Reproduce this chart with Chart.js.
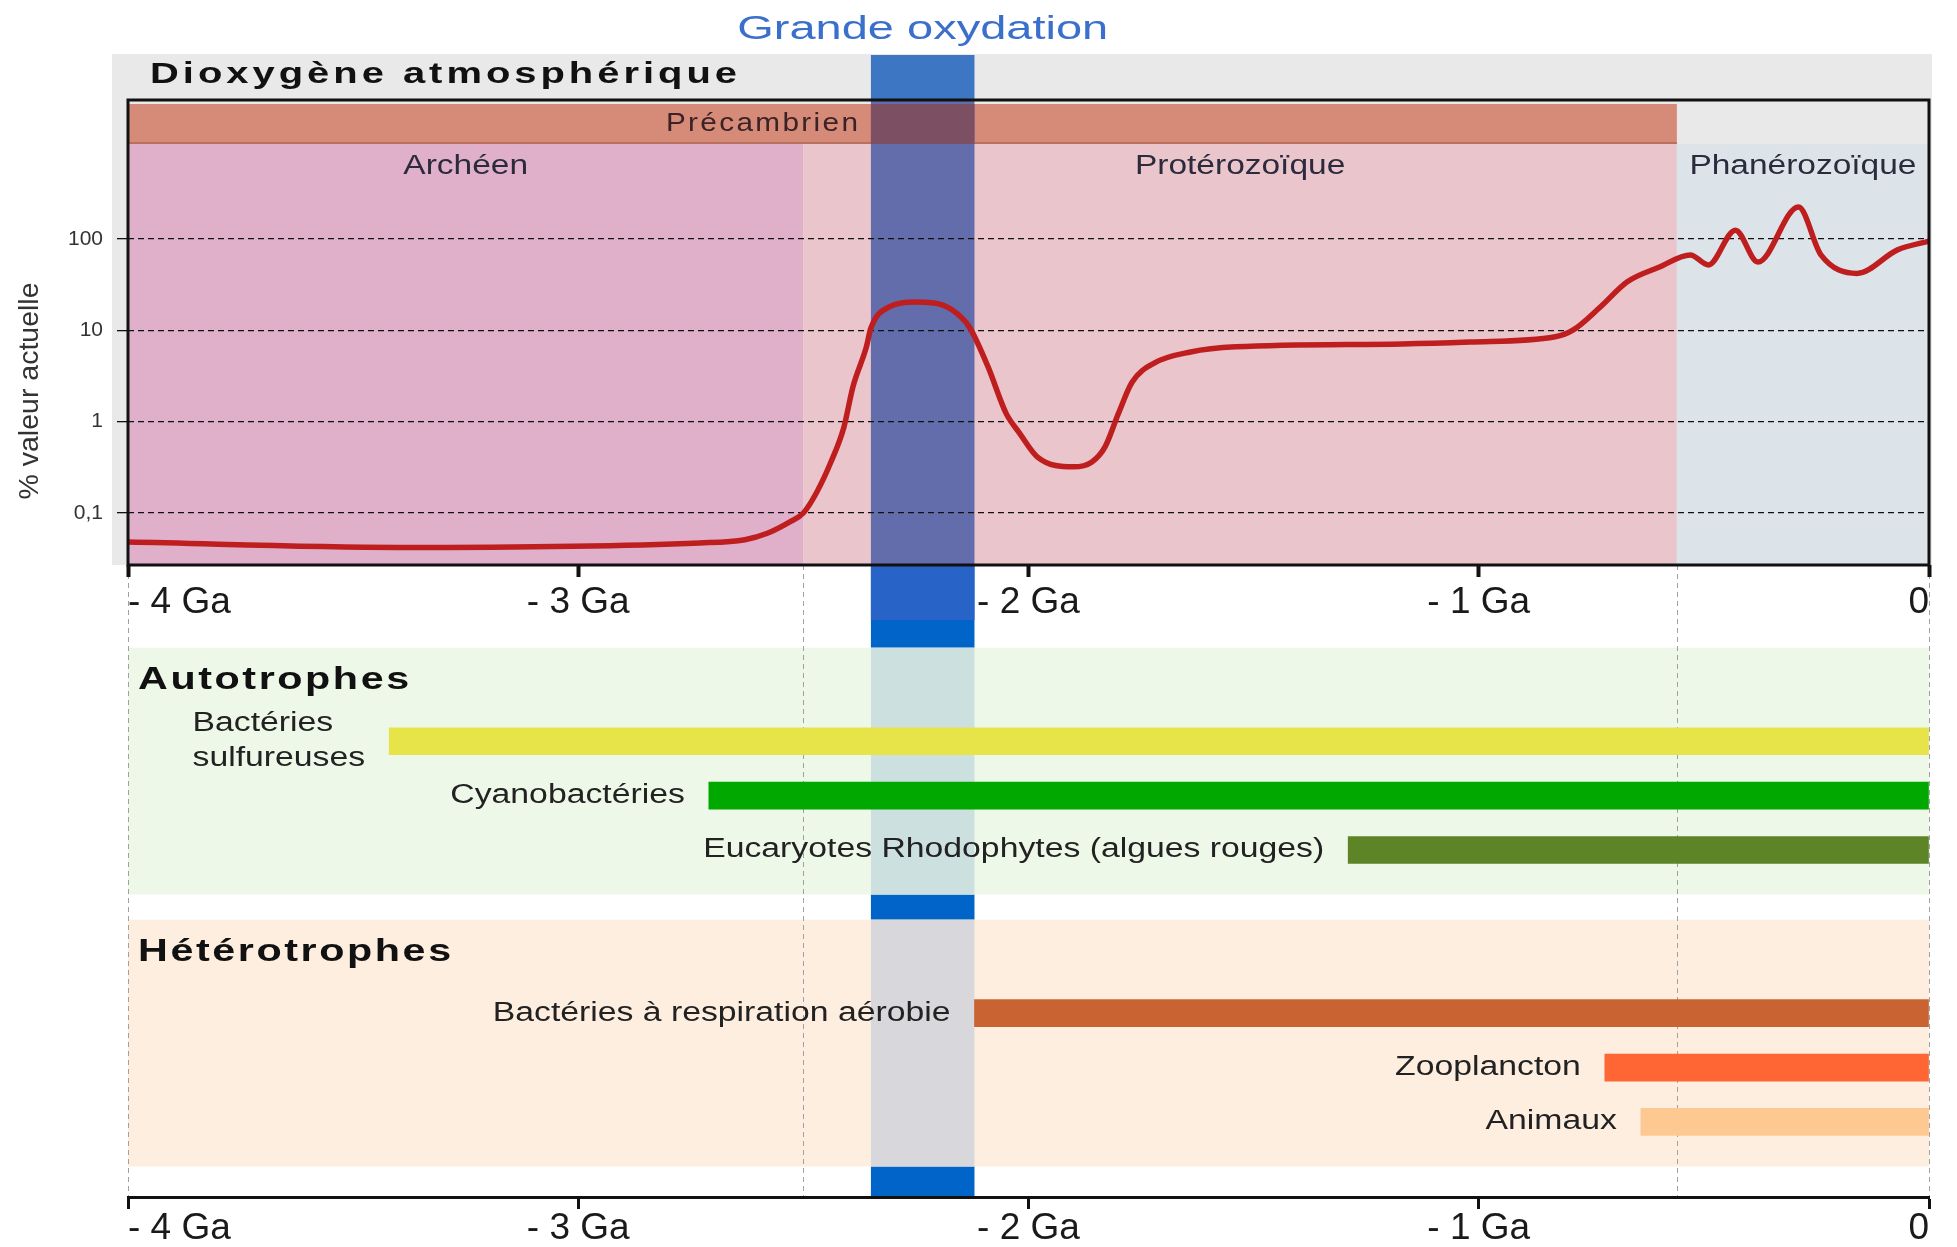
<!DOCTYPE html>
<html lang="fr">
<head>
<meta charset="utf-8">
<title>Dioxygène atmosphérique et apparition des êtres vivants</title>
<script src="https://cdn.jsdelivr.net/npm/chart.js@4.4.1/dist/chart.umd.min.js"></script>
<style>
  html, body { margin: 0; padding: 0; background: #fff; overflow: hidden; }
  canvas { position: absolute; left: 0; top: 0; }
</style>
</head>
<body>
<canvas id="lifeChart" width="1957" height="1247"></canvas>
<canvas id="o2Chart" width="1957" height="1247"></canvas>
<script>
// axes
const xTicks = [-4, -3, -2, -1, 0];
const xTickLabels = ['- 4 Ga', '- 3 Ga', '- 2 Ga', '- 1 Ga', '0'];
const yTicks = [0.1, 1, 10, 100];
const yTickLabels = ['0,1', '1', '10', '100'];

// O2 atmosphérique (% de la valeur actuelle) selon l'âge (Ga)
const o2Ga = [-4.00, -3.40, -2.73, -2.63, -2.58, -2.53, -2.50, -2.47, -2.44, -2.41, -2.39, -2.36,
  -2.35, -2.31, -2.25, -2.19, -2.15, -2.13, -2.09, -2.05, -2.02, -1.98, -1.90, -1.86, -1.83,
  -1.80, -1.77, -1.72, -1.64, -1.54, -1.17, -1.02, -0.83, -0.79, -0.73, -0.67, -0.60, -0.53,
  -0.49, -0.43, -0.38, -0.29, -0.24, -0.16, -0.07, 0];
const o2Pct = [0.048, 0.042, 0.047, 0.051, 0.060, 0.080, 0.10, 0.17, 0.35, 0.87, 2.4, 6.6,
  10.6, 18, 20.4, 18.9, 14, 10.6, 4.0, 1.24, 0.75, 0.41, 0.32, 0.36, 0.53,
  1.24, 2.7, 4.4, 5.8, 6.6, 7.1, 7.45, 8.5, 10.1, 18, 34, 49, 67,
  52, 125, 56, 224, 67, 42, 76, 95];

// éons
const eons = ['Archéen', 'Protérozoïque', 'Phanérozoïque'];
const eonStart = [-4, -2.5, -0.56];
const eonEnd = [-2.5, -0.56, 0];
const precambrienLabel = 'Précambrien';
const precambrienStart = -4;
const precambrienEnd = -0.56;

// Grande oxydation
const goeLabel = 'Grande oxydation';
const goeStart = -2.35;
const goeEnd = -2.12;

// êtres vivants
const groups = ['Autotrophes', 'Hétérotrophes'];
const organisms = [['Bactéries', 'sulfureuses'], 'Cyanobactéries', 'Eucaryotes Rhodophytes (algues rouges)',
  'Bactéries à respiration aérobie', 'Zooplancton', 'Animaux'];
const organismGroup = [0, 0, 0, 1, 1, 1];
const firstAppearance = [-3.42, -2.71, -1.29, -2.12, -0.72, -0.64];
const lastAppearance = [0, 0, 0, 0, 0, 0];

// couleurs
const eonColors = ['#e0b0cb', '#eac5cc', '#dce4ea'];
const organismColors = ['#e6e448', '#00a800', '#5e8428', '#c96432', '#ff6633', '#fec892'];
const groupColors = ['#eef8e8', '#fdeee0'];
const goeTints = ['#cde0e0', '#d8d8dc'];

Chart.defaults.font.family = '"Liberation Sans", Arial, sans-serif';

// one row per group header, then one per organism, then a blank row
const headerRow = [];
const lastRow = [];
const rowOf = [];
let row = 0;
groups.forEach((g, gi) => {
  headerRow[gi] = row++;
  organisms.forEach((o, i) => {
    if (organismGroup[i] === gi) rowOf[i] = row++;
  });
  lastRow[gi] = row - 1;
  row++;
});

function drawLabel(ctx, text, x, y, o) {
  ctx.save();
  ctx.font = (o.bold ? 'bold ' : '') + o.size + 'px "Liberation Sans", Arial, sans-serif';
  if ('letterSpacing' in ctx) ctx.letterSpacing = (o.ls || 0) + 'px';
  ctx.fillStyle = o.color || '#222';
  ctx.textAlign = 'left';
  ctx.textBaseline = 'middle';
  const w = ctx.measureText(text).width - (o.ls || 0);
  const sx = o.width ? o.width / w : (o.sx || 1);
  let left = x;
  if (o.align === 'center') left = x - w * sx / 2;
  if (o.align === 'right') left = x - w * sx;
  ctx.translate(left, y);
  ctx.scale(sx, 1);
  ctx.fillText(text, 0, 0);
  ctx.restore();
  return w * sx;
}

function textWidth(ctx, text, o) {
  ctx.save();
  ctx.font = (o.bold ? 'bold ' : '') + o.size + 'px "Liberation Sans", Arial, sans-serif';
  if ('letterSpacing' in ctx) ctx.letterSpacing = '0px';
  const w = ctx.measureText(text).width * (o.sx || 1);
  ctx.restore();
  return w;
}

const o2Decor = {
  id: 'o2Decor',
  beforeDraw(chart) {
    const { ctx, chartArea: a, scales: { x } } = chart;
    const stripTop = a.top + 4;
    const bandTop = a.top + 44;
    ctx.save();
    ctx.fillStyle = '#e9e9e9';
    ctx.fillRect(a.left - 16, a.top - 46, a.right - a.left + 19, a.bottom - a.top + 46);

    eons.forEach((e, i) => {
      const x0 = x.getPixelForValue(eonStart[i]);
      const x1 = x.getPixelForValue(eonEnd[i]);
      ctx.fillStyle = eonColors[i];
      ctx.fillRect(x0, bandTop, x1 - x0, a.bottom - bandTop);
    });

    const p0 = x.getPixelForValue(precambrienStart);
    const p1 = x.getPixelForValue(precambrienEnd);
    ctx.fillStyle = '#d68a78';
    ctx.fillRect(p0, stripTop, p1 - p0, bandTop - stripTop);
    ctx.fillStyle = '#b8705f';
    ctx.fillRect(p0, bandTop - 2, p1 - p0, 2);

    const g0 = x.getPixelForValue(goeStart);
    const g1 = x.getPixelForValue(goeEnd);
    ctx.fillStyle = '#3d77c4';
    ctx.fillRect(g0, a.top - 45, g1 - g0, 45);
    ctx.fillStyle = '#636dab';
    ctx.fillRect(g0, a.top, g1 - g0, a.bottom - a.top);
    ctx.fillStyle = '#7d4f62';
    ctx.fillRect(g0, stripTop, g1 - g0, bandTop - stripTop);
    ctx.restore();
  },
  afterDraw(chart) {
    const { ctx, chartArea: a, scales: { x } } = chart;
    ctx.save();
    ctx.strokeStyle = '#111';
    ctx.lineWidth = 3;
    ctx.strokeRect(a.left, a.top, a.right - a.left, a.bottom - a.top);
    ctx.restore();

    const g0 = x.getPixelForValue(goeStart);
    const g1 = x.getPixelForValue(goeEnd);
    drawLabel(ctx, goeLabel, (g0 + g1) / 2, a.top - 70, { size: 33, width: 371, align: 'center', color: '#3a6fcc' });
    drawLabel(ctx, 'Dioxygène atmosphérique', a.left + 22, a.top - 25, { size: 30, bold: true, ls: 3, width: 587, color: '#111' });
    drawLabel(ctx, precambrienLabel, g0 - 13, a.top + 24, { size: 25, ls: 2, width: 192, align: 'right', color: '#3b2226' });

    eons.forEach((e, i) => {
      const cx = (x.getPixelForValue(eonStart[i]) + x.getPixelForValue(eonEnd[i])) / 2;
      drawLabel(ctx, e, cx, a.top + 67, { size: 27, sx: 1.24, align: 'center', color: '#2b2b3d' });
    });

    ctx.save();
    ctx.translate(30, a.top + 291);
    ctx.rotate(-Math.PI / 2);
    drawLabel(ctx, '% valeur actuelle', 0, 0, { size: 28, width: 217, align: 'center', color: '#333' });
    ctx.restore();
  }
};

const lifeDecor = {
  id: 'lifeDecor',
  beforeDraw(chart) {
    const { ctx, chartArea: a, scales: { x, y } } = chart;
    const g0 = x.getPixelForValue(goeStart);
    const g1 = x.getPixelForValue(goeEnd);
    ctx.save();
    ctx.fillStyle = '#0064c8';
    ctx.fillRect(g0, a.top, g1 - g0, a.bottom - a.top);
    ctx.fillStyle = '#2864c8';
    ctx.fillRect(g0, a.top, g1 - g0, 55);

    groups.forEach((g, gi) => {
      const top = y.getPixelForValue(headerRow[gi] - 0.72);
      const bottom = y.getPixelForValue(lastRow[gi] + 0.82);
      ctx.fillStyle = groupColors[gi];
      ctx.fillRect(a.left, top, a.right - a.left, bottom - top);
      ctx.fillStyle = goeTints[gi];
      ctx.fillRect(g0, top, g1 - g0, bottom - top);
    });

    const bounds = [...new Set(eonStart.concat(eonEnd))];
    ctx.strokeStyle = '#a0a0a0';
    ctx.lineWidth = 1;
    ctx.setLineDash([5, 4]);
    bounds.forEach(v => {
      const px = Math.round(x.getPixelForValue(v)) + 0.5;
      ctx.beginPath();
      ctx.moveTo(px, a.top);
      ctx.lineTo(px, a.bottom);
      ctx.stroke();
    });
    ctx.restore();
  },
  afterDraw(chart) {
    const { ctx, chartArea: a, scales: { x, y } } = chart;
    const style = { size: 27, sx: 1.25, color: '#222' };
    const gap = 24;

    groups.forEach((g, gi) => {
      drawLabel(ctx, g, a.left + 10, y.getPixelForValue(headerRow[gi]) - 7, { size: 32, bold: true, ls: 2, sx: 1.29, color: '#111' });
    });

    organisms.forEach((name, i) => {
      const lines = Array.isArray(name) ? name : [name];
      const cy = y.getPixelForValue(rowOf[i]);
      const right = x.getPixelForValue(firstAppearance[i]) - gap;
      const maxW = Math.max(...lines.map(l => textWidth(ctx, l, style)));
      lines.forEach((l, k) => {
        const ly = cy + (k - (lines.length - 1) / 2) * 35;
        drawLabel(ctx, l, right - maxW, ly, style);
      });
    });
  }
};

const xAxisBase = {
  type: 'linear',
  min: -4,
  max: 0,
  afterBuildTicks: (scale) => { scale.ticks = xTicks.map(v => ({ value: v })); },
  ticks: {
    callback: (v, i) => xTickLabels[i],
    align: 'inner',
    autoSkip: false,
    maxRotation: 0,
    font: { size: 37 },
    color: '#1a1a1a'
  }
};

const o2Chart = new Chart(document.getElementById('o2Chart'), {
  type: 'line',
  data: {
    datasets: [{
      data: o2Ga.map((g, i) => ({ x: g, y: o2Pct[i] })),
      borderColor: '#bf1e1e',
      borderWidth: 5.5,
      pointRadius: 0,
      cubicInterpolationMode: 'monotone',
      fill: false
    }]
  },
  options: {
    responsive: false,
    animation: false,
    events: [],
    devicePixelRatio: 1,
    layout: { padding: { left: 0, right: 28, top: 100, bottom: 622 } },
    plugins: { legend: { display: false }, tooltip: { enabled: false } },
    scales: {
      x: {
        ...xAxisBase,
        afterFit: (scale) => { scale.height = 60; },
        ticks: { ...xAxisBase.ticks, padding: 4 },
        grid: { drawOnChartArea: false, tickLength: 12, tickWidth: 4, tickColor: '#111' },
        border: { display: false }
      },
      y: {
        type: 'logarithmic',
        min: 0.02695,
        max: 3327,
        afterBuildTicks: (scale) => { scale.ticks = yTicks.map(v => ({ value: v })); },
        afterFit: (scale) => { scale.width = 128; },
        ticks: { callback: (v, i) => yTickLabels[i], font: { size: 21 }, color: '#333', padding: 14 },
        grid: { color: '#111', lineWidth: 1.3, tickLength: 11, tickColor: '#111', tickWidth: 1.3 },
        border: { display: false, dash: [6, 4] }
      }
    }
  },
  plugins: [o2Decor]
});

const lifeChart = new Chart(document.getElementById('lifeChart'), {
  type: 'bar',
  data: {
    datasets: [{
      data: organisms.map((o, i) => ({ x: [firstAppearance[i], lastAppearance[i]], y: rowOf[i] })),
      backgroundColor: organismColors,
      borderWidth: 0,
      barThickness: 27
    }]
  },
  options: {
    indexAxis: 'y',
    responsive: false,
    animation: false,
    events: [],
    devicePixelRatio: 1,
    layout: { padding: { left: 128, right: 28, top: 565, bottom: 0 } },
    plugins: { legend: { display: false }, tooltip: { enabled: false } },
    scales: {
      x: {
        ...xAxisBase,
        afterFit: (scale) => { scale.height = 50; },
        ticks: { ...xAxisBase.ticks, padding: -2 },
        grid: { drawOnChartArea: false, tickLength: 12, tickWidth: 3, tickColor: '#111' },
        border: { display: true, color: '#111', width: 3 }
      },
      y: { type: 'linear', reverse: true, offset: false, min: -2.24, max: 9.38, display: false }
    }
  },
  plugins: [lifeDecor]
});
</script>
</body>
</html>
